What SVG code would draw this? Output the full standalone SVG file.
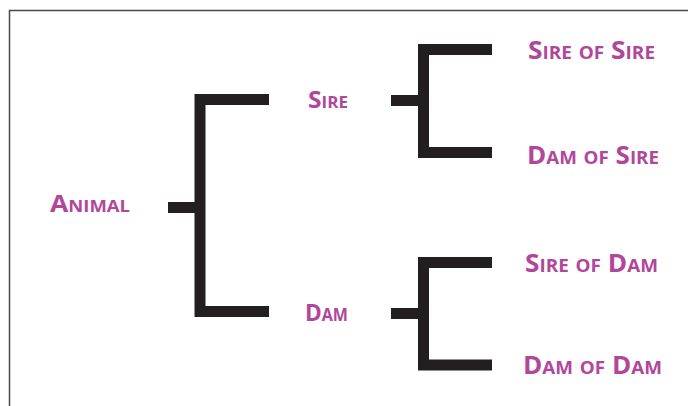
<svg xmlns="http://www.w3.org/2000/svg" width="688" height="406" viewBox="0 0 688 406">
<style>
.lbl{font-family:"Open Sans","Liberation Sans",sans-serif;font-weight:700;font-variant:small-caps;fill:#B0479B}
.br{fill:none;stroke:#231F20;stroke-width:11;stroke-linejoin:miter;stroke-linecap:butt}
</style>
<rect width="688" height="406" fill="#fff"/>
<path d="M9.5,406 V10.5 H688" fill="none" stroke="#4a4a4a" stroke-width="1.5"/>
<g id="connectors">
<path class="br" d="M269,99.5 H200 V311.5 H269"/>
<path class="br" d="M168,207.5 H200"/>
<path class="br" d="M492,49.5 H423.5 V152.5 H492"/>
<path class="br" d="M391,100.5 H423.5"/>
<path class="br" d="M492,262.5 H423.5 V365 H492"/>
<path class="br" d="M391,313.5 H423.5"/>
</g>
<g id="animal"><text class="lbl" x="50" y="212" font-size="23" textLength="80" lengthAdjust="spacingAndGlyphs">Animal</text></g>
<g id="sire"><text class="lbl" x="308" y="108" font-size="23" textLength="40" lengthAdjust="spacingAndGlyphs">Sire</text></g>
<g id="dam"><text class="lbl" x="305" y="321" font-size="24" textLength="43" lengthAdjust="spacingAndGlyphs">Dam</text></g>
<g id="sire-of-sire"><text class="lbl" x="528" y="59" font-size="25" textLength="127" lengthAdjust="spacingAndGlyphs">Sire of Sire</text></g>
<g id="dam-of-sire"><text class="lbl" x="527" y="164" font-size="25" textLength="132" lengthAdjust="spacingAndGlyphs">Dam of Sire</text></g>
<g id="sire-of-dam"><text class="lbl" x="525" y="272" font-size="25" textLength="133" lengthAdjust="spacingAndGlyphs">Sire of Dam</text></g>
<g id="dam-of-dam"><text class="lbl" x="523" y="374" font-size="25" textLength="139" lengthAdjust="spacingAndGlyphs">Dam of Dam</text></g>
</svg>
